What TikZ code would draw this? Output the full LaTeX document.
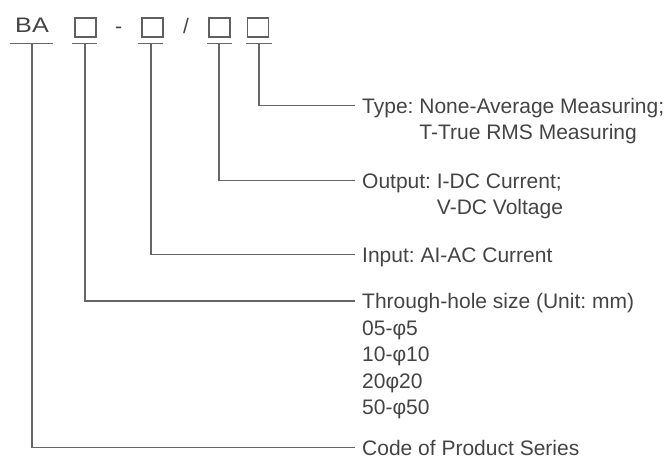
\documentclass[tikz,border=0pt]{standalone}
\usepackage{fontspec}
\setmainfont{Liberation Sans}
\usepackage{tikz}
\definecolor{txtgray}{HTML}{444444}
\definecolor{wiregray}{HTML}{666666}
\frenchspacing

\begin{document}
\begin{tikzpicture}[x=1pt,y=-1pt]
\tikzset{lbl/.style={anchor=base west,inner sep=0pt,text height=15pt,text depth=0pt,
    font=\fontsize{21}{26}\selectfont,text=txtgray},
  box/.style={draw=txtgray!85,line width=1.3pt,minimum width=21pt,minimum height=19pt,inner sep=0pt},
  wire/.style={draw=wiregray,line width=1.7pt}}
\useasboundingbox (0,0) rectangle (671,461);

% code header
\path (15,32.5) node[lbl] (ba) {\scalebox{1.2}[1]{BA}};
\path (85.5,27.5) node[box] (s1) {};
\path (115,33) node[lbl] (dash) {-};
\path (152.5,27.5) node[box] (s2) {};
\path (183,33) node[lbl] (slash) {/};
\path (219.5,27.5) node[box] (s3) {};
\path (258,27.5) node[box] (s4) {};

\coordinate (t0) at (32,43.5);
\coordinate (t1) at (85,43.5);
\coordinate (t2) at (151,43.5);
\coordinate (t3) at (219,43.5);
\coordinate (t4) at (259,43.5);

\draw[wire] ([xshift=-22pt]t0) -- ([xshift=21pt]t0);
\draw[wire] ([xshift=-13pt]t1) -- ([xshift=12pt]t1);
\draw[wire] ([xshift=-13pt]t2) -- ([xshift=12pt]t2);
\draw[wire] ([xshift=-12pt]t3) -- ([xshift=13pt]t3);
\draw[wire] ([xshift=-13pt]t4) -- ([xshift=13pt]t4);

% labels
\path (362,113) node[lbl] (type) {Type: None-Average Measuring;};
\path (362,139) node[lbl] (type2) {\phantom{Type: }T-True RMS Measuring};
\path (362,188) node[lbl] (out) {Output: I-DC Current;};
\path (362,214) node[lbl] (out2) {\phantom{Output: }V-DC Voltage};
\path (362,262) node[lbl] (in) {Input: AI-AC Current};
\path (362,308.5) node[lbl] (hole) {Through-hole size (Unit: mm)};
\path (362,335) node[lbl] (h05) {05-φ5};
\path (362,361.5) node[lbl] (h10) {10-φ10};
\path (362,388) node[lbl] (h20) {20φ20};
\path (362,414.5) node[lbl] (h50) {50-φ50};
\path (362,455) node[lbl] (code) {Code of Product Series};

\draw[wire,shorten >=7pt] (t4) |- (type.west);
\draw[wire,shorten >=7pt] (t3) |- (out.west);
\draw[wire,shorten >=7pt] (t2) |- (in.west);
\draw[wire,shorten >=7pt] (t1) |- (hole.west);
\draw[wire,shorten >=7pt] (t0) |- (code.west);
\end{tikzpicture}
\end{document}
